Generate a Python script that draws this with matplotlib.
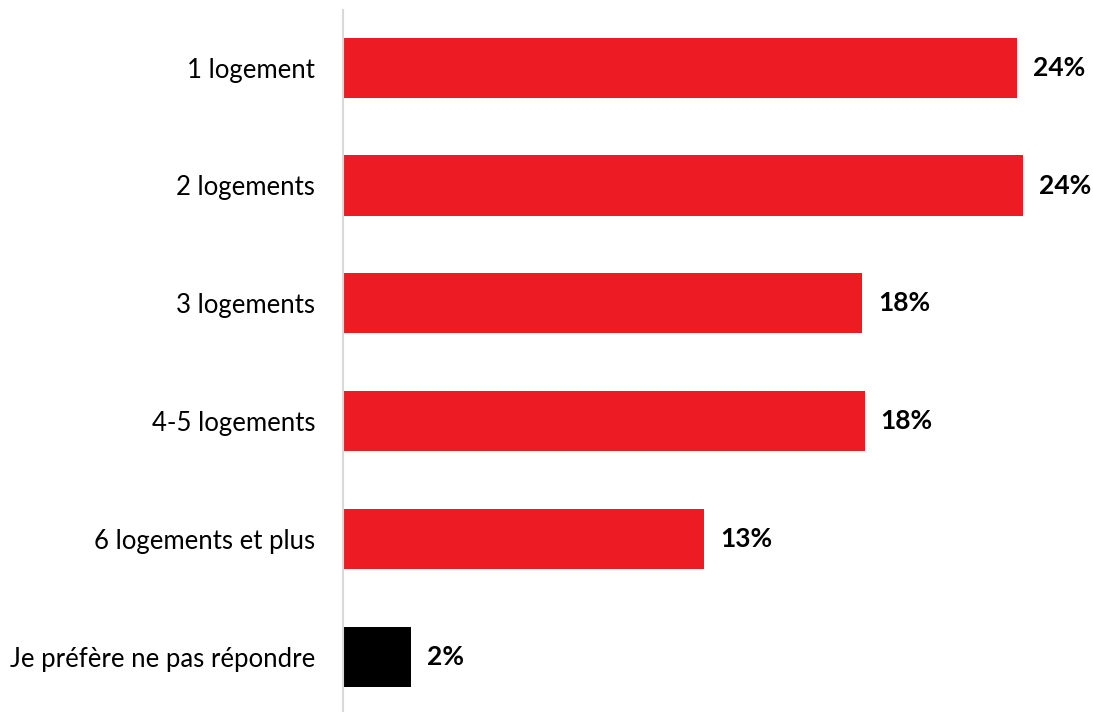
import matplotlib.pyplot as plt

plt.rcParams['font.family'] = ['Lato', 'DejaVu Sans']

categories = ["1 logement", "2 logements", "3 logements", "4-5 logements",
              "6 logements et plus", "Je préfère ne pas répondre"]
values = [23.9, 24.1, 18.4, 18.5, 12.8, 2.4]
labels = ["24%", "24%", "18%", "18%", "13%", "2%"]
colors = ["#ed1c24"] * 5 + ["#000000"]

fig = plt.figure(figsize=(10.93, 7.12), dpi=100)
ax = fig.add_axes([343 / 1093, 0, 1 - 343 / 1093, 1 - 10 / 712])

pos = list(range(len(categories)))
bars = ax.barh(pos, values, height=0.51, color=colors)
for b, lab in zip(bars, labels):
    ax.annotate(lab, (b.get_width(), b.get_y() + b.get_height() / 2),
                xytext=(11.5, 0), textcoords="offset points",
                ha="left", va="center", fontsize=19, fontweight="bold")

ax.set_yticks(pos)
ax.set_yticklabels(categories, fontsize=18.5)
ax.tick_params(axis="y", length=0, pad=20)
ax.set_xticks([])
ax.set_xlim(0, 750 / 28.2)
ax.set_ylim(5.47, -0.49)
for s in ["top", "right", "bottom"]:
    ax.spines[s].set_visible(False)
ax.spines["left"].set_color("#d9d9d9")
ax.spines["left"].set_linewidth(1.5)

fig.savefig("out.png", dpi=100)
